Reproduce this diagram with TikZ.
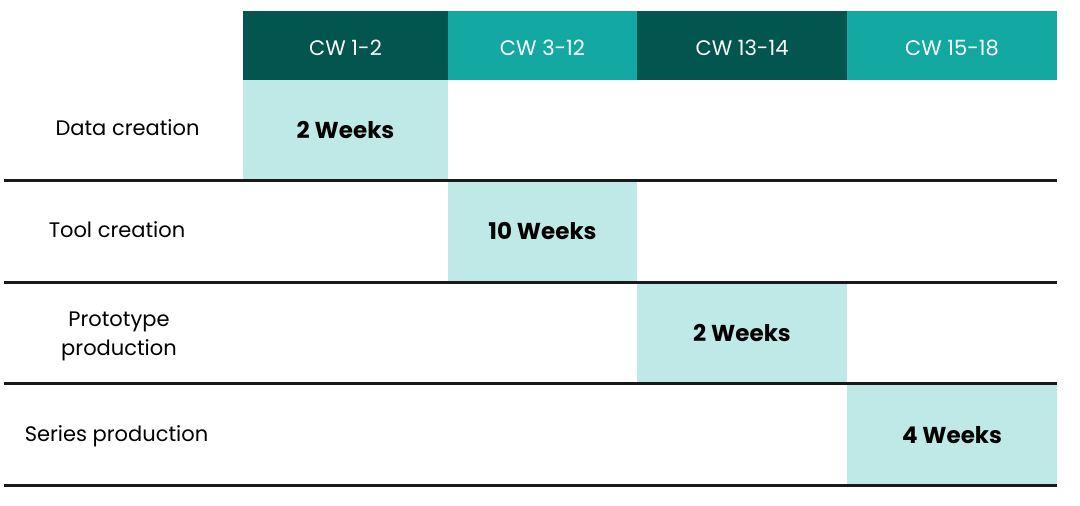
\documentclass[tikz,border=0pt]{standalone}
\usepackage{fontspec}
\setmainfont{Poppins}
\definecolor{darkteal}{HTML}{03564F}
\definecolor{midteal}{HTML}{14A8A3}
\definecolor{lightteal}{HTML}{BFE9E6}

\begin{document}
\begin{tikzpicture}[x=1pt,y=-1pt]
\tikzstyle{every node}=[inner sep=0pt, outer sep=0pt, font=\fontsize{10.5}{14.5}\selectfont]
\tikzstyle{head}=[minimum height=34.5pt, text=white, anchor=north west, text height=10.5pt, text depth=0pt]
\tikzstyle{bar}=[fill=lightteal, anchor=north, font=\fontsize{11.5}{13}\selectfont\bfseries]
\tikzstyle{rowline}=[line width=1.5pt, black!90]
\useasboundingbox (0,0) rectangle (540,253);
% header
\node (h1) [head, fill=darkteal, minimum width=102.5pt] at (121.5,5.5) {CW 1-2};
\node (h2) [head, fill=midteal, minimum width=94.5pt] at (h1.north east) {CW 3-12};
\node (h3) [head, fill=darkteal, minimum width=105pt] at (h2.north east) {CW 13-14};
\node (h4) [head, fill=midteal, minimum width=105pt] at (h3.north east) {CW 15-18};
% bars
\node (b1) [bar, minimum width=102.5pt, minimum height=50.25pt] at (h1.south) {2 Weeks};
\node (b2) [bar, minimum width=94.5pt, minimum height=51pt] at (h2.south |- b1.south) {10 Weeks};
\node (b3) [bar, minimum width=105pt, minimum height=50.75pt] at (h3.south |- b2.south) {2 Weeks};
\node (b4) [bar, minimum width=105pt, minimum height=51pt] at (h4.south |- b3.south) {4 Weeks};
% row labels
\node (r1) at (63.75,64) {Data creation};
\node (r2) at (58.5,115) {Tool creation};
\node (r3) [align=center] at (59.5,168) {Prototype\\production};
\node (r4) at (58.25,218) {Series production};
% lines
\coordinate (s) at (2,0);
\draw[rowline] (s |- b1.south) -- (h4.east |- b1.south);
\draw[rowline] (s |- b2.south) -- (h4.east |- b2.south);
\draw[rowline] (s |- b3.south) -- (h4.east |- b3.south);
\draw[rowline] (s |- b4.south) -- (h4.east |- b4.south);
\end{tikzpicture}
\end{document}
